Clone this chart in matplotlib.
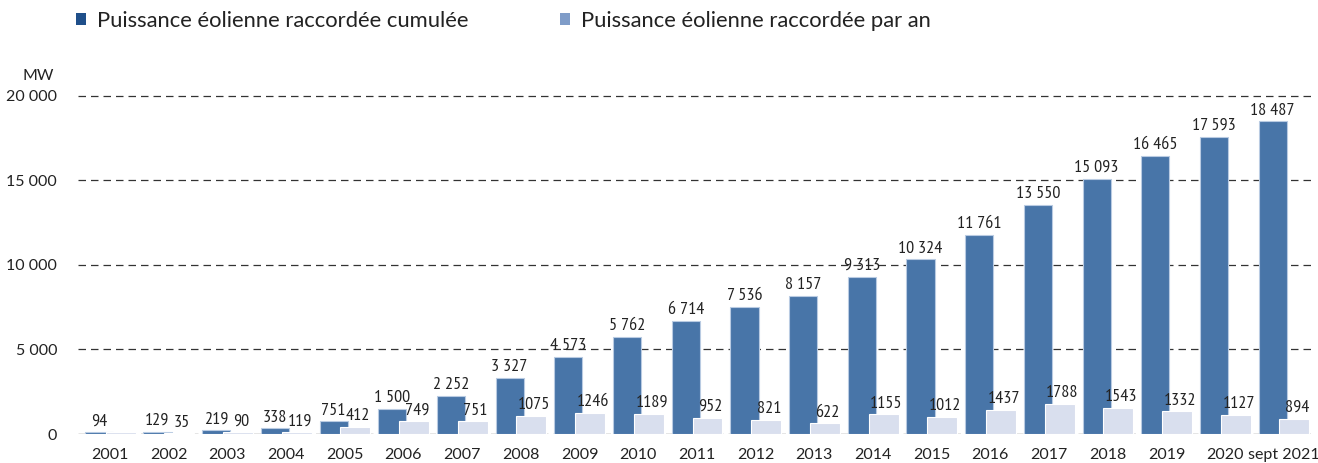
import numpy as np
import matplotlib.pyplot as plt
from matplotlib.patches import Patch

years = ['2001', '2002', '2003', '2004', '2005', '2006', '2007', '2008', '2009', '2010',
         '2011', '2012', '2013', '2014', '2015', '2016', '2017', '2018', '2019', '2020', 'sept 2021']
cumul = [94, 129, 219, 338, 751, 1500, 2252, 3327, 4573, 5762,
         6714, 7536, 8157, 9313, 10324, 11761, 13550, 15093, 16465, 17593, 18487]
par_an = [94, 35, 90, 119, 412, 749, 751, 1075, 1246, 1189,
          952, 821, 622, 1155, 1012, 1437, 1788, 1543, 1332, 1127, 894]

col_cumul = '#4875a8'
col_an = '#d9dfee'
leg_cumul = '#1f4f8a'
leg_an = '#7f9cc8'

def fmt(v):
    return f"{v:,}".replace(",", " ")

plt.rcParams['font.family'] = ['Lato', 'DejaVu Sans']
narrow = ['PT Sans Narrow', 'DejaVu Sans']

fig = plt.figure(figsize=(13.18, 4.63), dpi=100)
ax = fig.add_axes([78/1318, 29/463, 1234/1318, 355/463])

x = np.arange(len(years))
xc = x - 0.19
xa = x + 0.18
ax.bar(xc, cumul, width=0.48, color=col_cumul, edgecolor='#b9cbe2', linewidth=0.8, zorder=3)
ax.bar(xa, par_an, width=0.51, color=col_an, edgecolor='white', linewidth=0.8, zorder=4)

# 2001: only one label (same value)
for i in range(len(years)):
    ax.annotate(fmt(cumul[i]), (xc[i], cumul[i]), xytext=(0, 2), textcoords='offset points',
                ha='center', va='bottom', fontsize=13, family=narrow, color='#222222', zorder=5)
    if i > 0:
        ax.annotate(str(par_an[i]), (xa[i] + 0.05, par_an[i]), xytext=(0, 2), textcoords='offset points',
                    ha='center', va='bottom', fontsize=13, family=narrow, color='#222222', zorder=5)

ax.set_xlim(-0.545, 20.48)
ax.set_ylim(0, 21000)
ax.set_yticks([0, 5000, 10000, 15000, 20000])
ax.set_yticklabels(['0', '5 000', '10 000', '15 000', '20 000'])
ax.set_xticks(x)
ax.set_xticklabels(years)
ax.tick_params(axis='both', length=0, labelsize=11.5, colors='#222222')
ax.tick_params(axis='y', pad=15)
ax.tick_params(axis='x', pad=10)
ax.grid(axis='y', linestyle=(0, (6, 4)), color='#333333', linewidth=0.9, zorder=1)
for s in ax.spines.values():
    s.set_visible(False)

fig.text(22/1318, 1 - 76/463, 'MW', fontsize=11.5, color='#222222', va='center')

handles = [Patch(facecolor=leg_cumul, label='Puissance éolienne raccordée cumulée'),
           Patch(facecolor=leg_an, label='Puissance éolienne raccordée par an')]
fig.legend(handles=handles, loc='center left', bbox_to_anchor=(56/1318, 1 - 21/463), ncol=2,
           frameon=False, fontsize=15.8, handlelength=0.45, handleheight=0.45, handletextpad=0.5,
           columnspacing=4.2, labelcolor='#222222')

fig.savefig('out.png', dpi=100)
